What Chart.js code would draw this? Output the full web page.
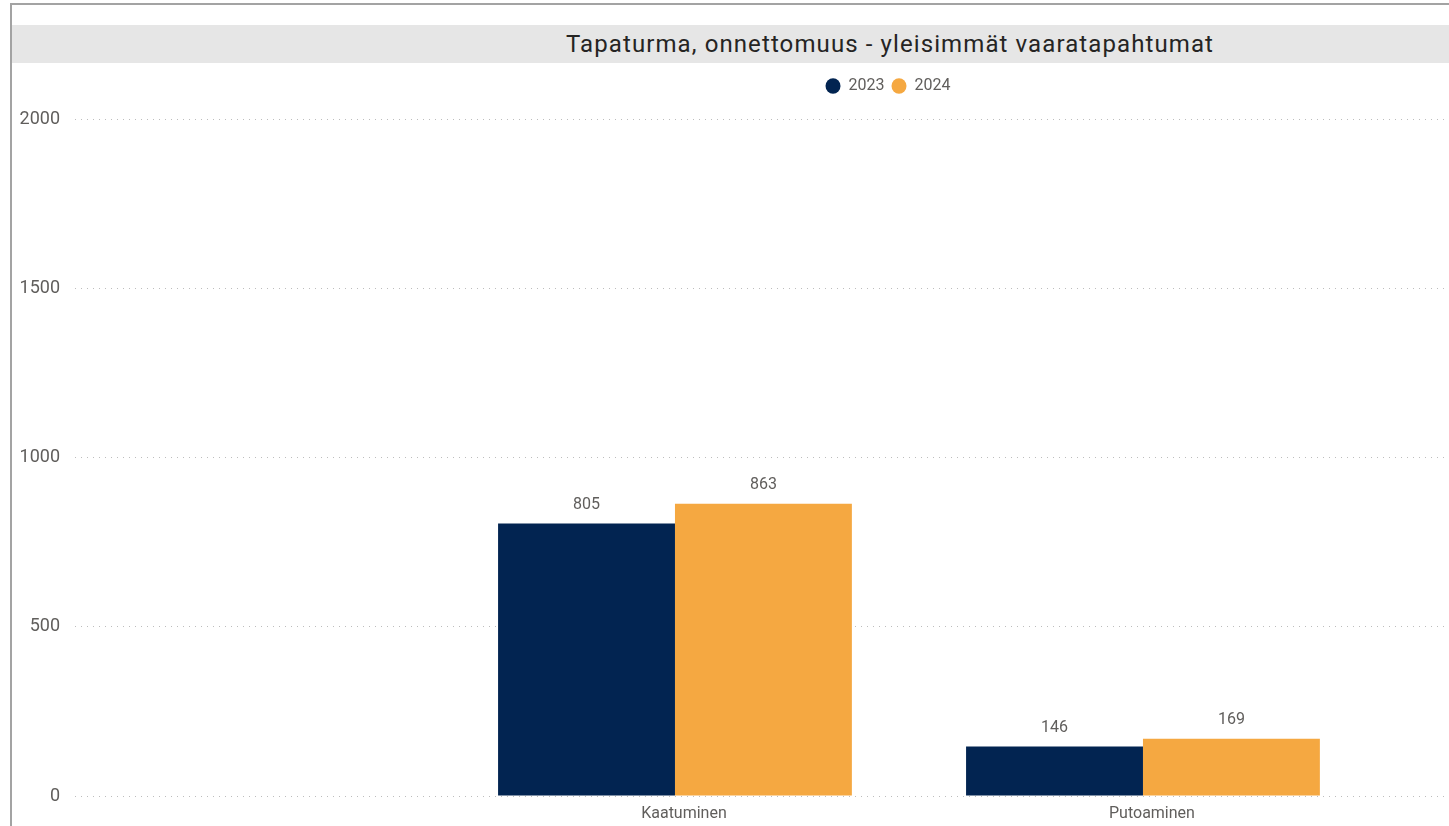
<!DOCTYPE html>
<html lang="fi">
<head>
<meta charset="utf-8">
<title>Tapaturma, onnettomuus - yleisimmät vaaratapahtumat</title>
<script src="https://cdn.jsdelivr.net/npm/chart.js@4.4.1/dist/chart.umd.min.js"></script>
<style>
    html, body { margin: 0; padding: 0; background: #fff; overflow: hidden; }
    .frame {
        position: absolute;
        left: 10px;
        top: 3px;
        width: 1760px;
        height: 830px;
        border-left: 2px solid #a3a3a3;
        border-top: 2px solid #a3a3a3;
    }
    .title-band {
        margin-top: 20px;
        width: 1752px;
        height: 38px;
        background: #e6e6e6;
        text-align: center;
        line-height: 38px;
        font-family: Roboto, sans-serif;
        font-size: 24px;
        letter-spacing: 1.1px;
        color: #252423;
        text-indent: 4px;
    }
    canvas { display: block; }
</style>
</head>
<body>
<div class="frame">
    <div class="title-band">Tapaturma, onnettomuus - yleisimmät vaaratapahtumat</div>
    <canvas id="chart" width="1752" height="763"></canvas>
</div>
<script>
// Data
const categories = ['Kaatuminen', 'Putoaminen'];
const years = ['2023', '2024'];
const values2023 = [805, 146];
const values2024 = [863, 169];
const yTicks = [0, 500, 1000, 1500, 2000];

const colors = ['#022451', '#F5A841'];

document.addEventListener('DOMContentLoaded', () => {
    // bars sit on a numeric x axis so the visible window can start before the first category
    const toPoints = vals => vals.map((v, i) => ({ x: i + 1, y: v }));

    // value labels above the bars
    const valueLabels = {
        id: 'valueLabels',
        afterDatasetsDraw(chart) {
            const ctx = chart.ctx;
            ctx.save();
            ctx.font = '16px Roboto, sans-serif';
            ctx.fillStyle = '#605E5C';
            ctx.textAlign = 'center';
            ctx.textBaseline = 'middle';
            chart.data.datasets.forEach((ds, di) => {
                chart.getDatasetMeta(di).data.forEach((bar, i) => {
                    ctx.fillText(ds.data[i].y, bar.x, bar.y - 19);
                });
            });
            ctx.restore();
        }
    };

    // more room under the legend
    const legendGap = {
        id: 'legendGap',
        beforeInit(chart) {
            const fit = chart.legend.fit;
            chart.legend.fit = function () {
                fit.call(this);
                this.height += 15;
            };
        }
    };

    new Chart(document.getElementById('chart'), {
        type: 'bar',
        data: {
            datasets: [
                { label: years[0], data: toPoints(values2023), backgroundColor: colors[0] },
                { label: years[1], data: toPoints(values2024), backgroundColor: colors[1] }
            ]
        },
        plugins: [valueLabels, legendGap],
        options: {
            responsive: false,
            animation: false,
            devicePixelRatio: 1,
            categoryPercentage: 0.756,
            barPercentage: 1,
            layout: { padding: { left: 0, top: 8, right: 0, bottom: 0 } },
            plugins: {
                tooltip: { enabled: false },
                legend: {
                    position: 'top',
                    labels: {
                        usePointStyle: true,
                        pointStyle: 'circle',
                        boxHeight: 11,
                        pointStyleWidth: 15,
                        padding: 7,
                        color: '#605E5C',
                        font: { family: 'Roboto, sans-serif', size: 16 }
                    }
                }
            },
            scales: {
                x: {
                    type: 'linear',
                    min: -0.282,
                    max: 3.327,
                    offset: false,
                    grid: { display: false, offset: false, drawTicks: false },
                    border: { display: false },
                    afterBuildTicks: scale => {
                        scale.ticks = categories.map((c, i) => ({ value: i + 1 }));
                    },
                    afterFit: scale => { scale.height = 30; },
                    ticks: {
                        autoSkip: false,
                        maxRotation: 0,
                        padding: 8,
                        labelOffset: 9,
                        color: '#605E5C',
                        font: { family: 'Roboto, sans-serif', size: 16 },
                        callback: v => categories[v - 1] || ''
                    }
                },
                y: {
                    min: 0,
                    max: 2000,
                    afterBuildTicks: scale => {
                        scale.ticks = yTicks.map(v => ({ value: v }));
                    },
                    afterFit: scale => { scale.width = 63; },
                    grid: { color: '#bdbdbd', lineWidth: 1, drawTicks: false },
                    border: { display: false, dash: [1, 5] },
                    ticks: {
                        padding: 15,
                        color: '#605E5C',
                        font: { family: 'Roboto, sans-serif', size: 18 },
                        callback: v => String(v)
                    }
                }
            }
        }
    });
});
</script>
</body>
</html>
